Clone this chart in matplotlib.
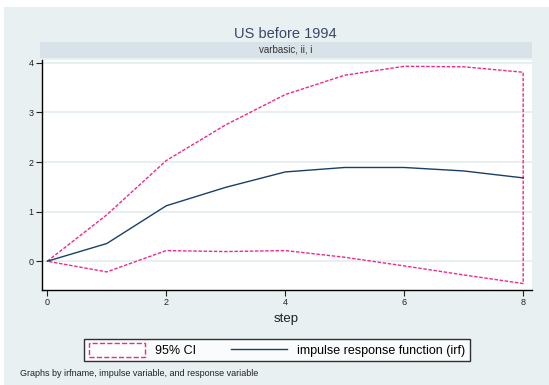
import matplotlib
matplotlib.use('Agg')
import matplotlib.pyplot as plt
from matplotlib.patches import Patch, Rectangle
from matplotlib.lines import Line2D
import numpy as np

plt.rcParams['font.family'] = ['Liberation Sans', 'DejaVu Sans']

# impulse response and its 95% band, by step
steps = [0, 1, 2, 3, 4, 5, 6, 7, 8]
irf = [0.0, 0.357, 1.118, 1.49, 1.80, 1.89, 1.89, 1.82, 1.68]
ci_upper = [0.0, 0.936, 2.03, 2.75, 3.36, 3.75, 3.93, 3.92, 3.81]
ci_lower = [0.0, -0.215, 0.215, 0.195, 0.215, 0.08, -0.094, -0.276, -0.45]

bg = '#e9f0f2'
strip_col = '#d8e3e9'
pink = '#f0288c'
navy = '#1a3f66'

fig = plt.figure(figsize=(5.49, 3.85), dpi=100)
fig.patch.set_facecolor('white')
# outer graph region
fig.add_artist(Rectangle((4 / 549, 0), 1 - 4 / 549, 1 - 7 / 385,
                         transform=fig.transFigure, facecolor=bg,
                         edgecolor='none', zorder=0))

ax = fig.add_axes([41.7 / 549, 1 - 290 / 385, (531.5 - 41.7) / 549, (290 - 59.5) / 385])
ax.set_facecolor('white')

# band drawn as one outline: upper, down the last step, back along lower
band_x = steps + steps[::-1]
band_y = ci_upper + ci_lower[::-1]
ax.plot(band_x, band_y, color=pink, lw=1.0, linestyle=(0, (2.5, 1.2)), zorder=3)
ax.plot(steps, irf, color=navy, lw=1.0, zorder=4)

ax.set_xlim(-0.094, 8.14)
ax.set_ylim(-0.58, 4.067)
ax.set_xticks([0, 2, 4, 6, 8])
ax.set_yticks([0, 1, 2, 3, 4])
ax.grid(axis='y', color='#e6eef0', lw=1.3)
ax.set_axisbelow(True)
for s in ['top', 'right']:
    ax.spines[s].set_visible(False)
for s in ['left', 'bottom']:
    ax.spines[s].set_color('black')
    ax.spines[s].set_linewidth(1.0)
ax.tick_params(axis='both', labelsize=6.5, length=4, width=0.8, colors='#222222', pad=2)
ax.set_xlabel('step', fontsize=9.5, color='#222222', labelpad=4)

# subtitle strip over the panel
fig.add_artist(Rectangle((40 / 549, 1 - 57.7 / 385), (531.5 - 40) / 549, 15.7 / 385,
                         transform=fig.transFigure, facecolor=strip_col,
                         edgecolor='none', zorder=1))
fig.text((40 + 531.5) / 2 / 549, 1 - 50 / 385, 'varbasic, ii, i', fontsize=7,
         ha='center', va='center', color='#333333')
fig.text((40 + 531.5) / 2 / 549, 1 - 34 / 385, 'US before 1994', fontsize=10.5,
         ha='center', va='center', color='#3a4868')

handles = [Patch(facecolor='white', edgecolor=pink, linestyle='--', linewidth=1.0),
           Line2D([0], [0], color=navy, lw=1.0)]
leg = fig.legend(handles, ['95% CI', 'impulse response function (irf)'],
                 loc='center', bbox_to_anchor=(277 / 549, 1 - 350 / 385), ncol=2,
                 fontsize=9, frameon=True, fancybox=False, handlelength=4.5,
                 handleheight=1.3, columnspacing=2.8, borderpad=0.35)
leg.get_frame().set_edgecolor('black')
leg.get_frame().set_linewidth(1.0)

fig.text(20 / 549, 1 - 374 / 385, 'Graphs by irfname, impulse variable, and response variable',
         fontsize=6.5, ha='left', va='center', color='#222222')

fig.savefig('out.png', dpi=100)
